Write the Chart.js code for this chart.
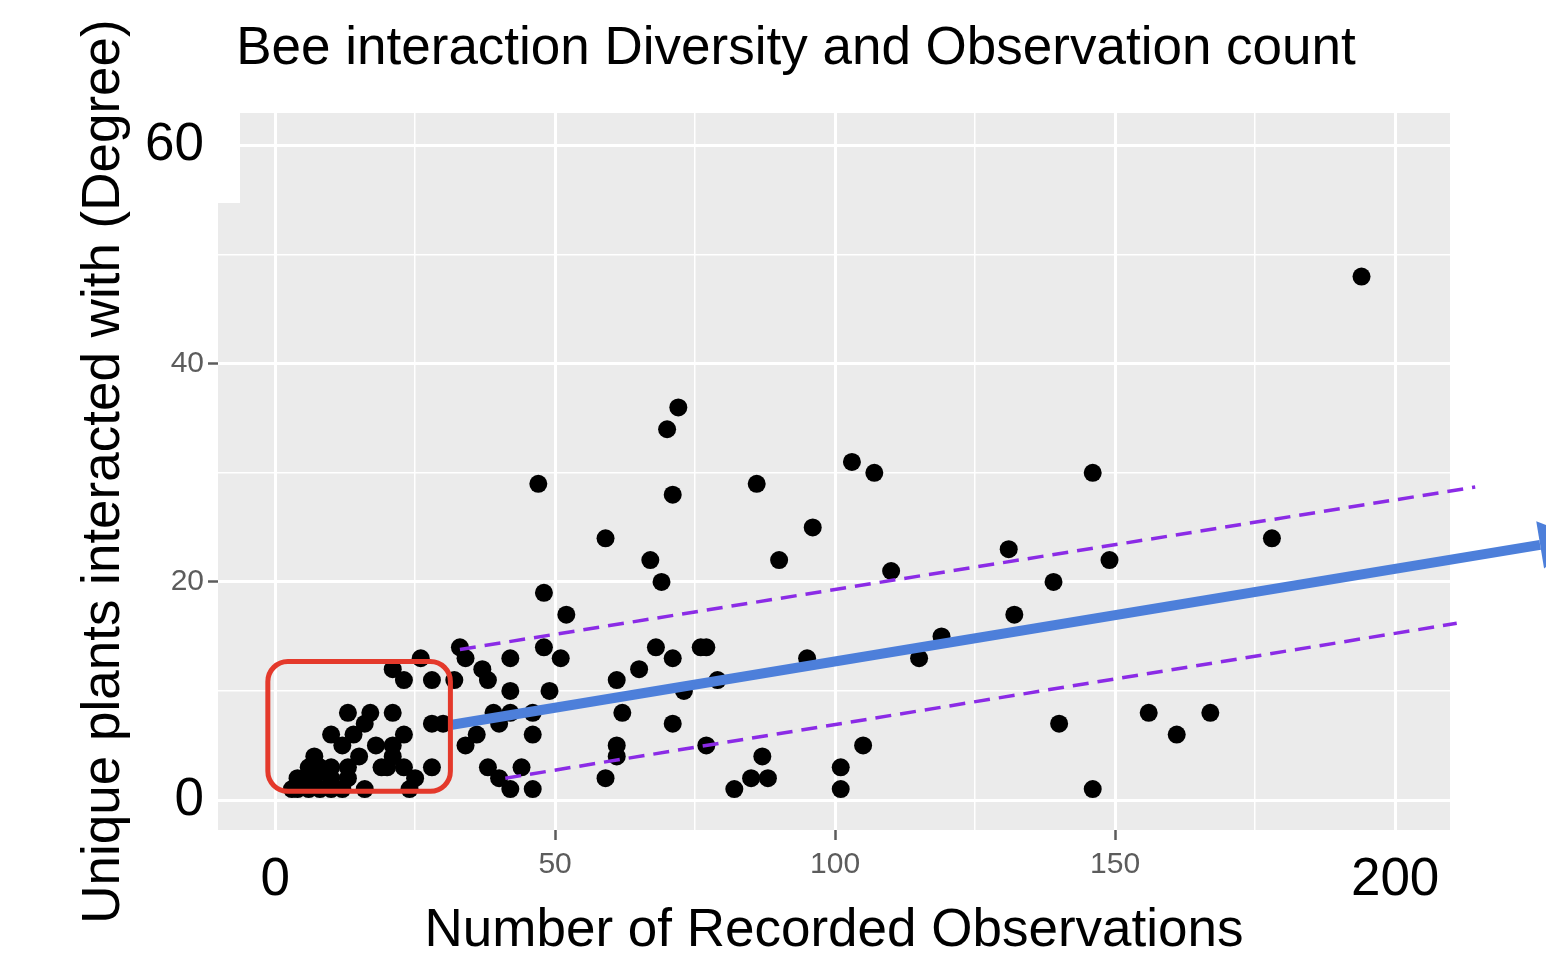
<!DOCTYPE html>
<html>
<head>
<meta charset="utf-8">
<script src="https://cdn.jsdelivr.net/npm/chart.js@4.4.1/dist/chart.umd.min.js"></script>
<style>
html,body{margin:0;padding:0;background:#fff;}
canvas{display:block;}
</style>
</head>
<body>
<canvas id="c" width="1546" height="960"></canvas>
<script>
// ---- data ----
const obsX = [
  26,21,23,28, 13,17,21, 16,28,30, 10,14,23, 12,18,21, 7,15,21,
  6,8,10,13,19,20,23,28, 4,7,10,13,25, 3,4,6,8,10,12,16,24,
  72,70,47,71,86,59,67,69,90,48,52,33,34,42,48,51,37,38,32,42,49,39,42,40,46,36,34,46,38,44,40,42,46,
  59,61,61,62,61,65,68,71,76,77,71,73,79,77,87,85,88,82,
  96,103,107,110,95,115,119,131,132,139,146,149,140,146,105,101,101,
  194,178,156,167,161
];
const degreeY = [
  13,12,11,11, 8,8,8, 7,7,7, 6,6,6, 5,5,5, 4,4,4,
  3,3,3,3,3,3,3,3, 2,2,2,2,2, 1,1,1,1,1,1,1,1,
  36,34,29,28,29,24,22,20,22,19,17,14,13,13,14,13,12,11,11,10,10,8,8,7,8,6,5,6,3,3,2,1,1,
  2,5,4,8,11,12,14,13,14,14,7,10,11,5,4,2,2,1,
  25,31,30,21,13,13,15,23,17,20,30,22,7,1,5,3,1,
  48,24,8,8,6
];
const xTickValues = [0,25,50,75,100,125,150,175,200];
const xTickLabels = ['0','','50','','100','','150','','200'];
const xLargeLabels = ['0','200'];
const yTickValues = [0,10,20,30,40,50,60];
const yTickLabels = ['0','','20','','40','','60'];
const yLargeLabels = ['0','60'];
const fitLineX = [31.6, 225.9];
const fitLineY = [6.9, 23.4];
const upperBandX = [33, 214.3];
const upperBandY = [13.8, 28.7];
const lowerBandX = [41.1, 211];
const lowerBandY = [2.0, 16.2];
const highlightX = [-1.3, 31.3];
const highlightY = [0.8, 12.7];

// ---- styling ----
const FONT = "'Liberation Sans', Arial, Helvetica, sans-serif";
const BLUE = '#4D7FDA';
const PURPLE = '#8B2BE6';
const RED = '#E4392B';
const SMALL_TICK = '#5c5c5c';

const pts = obsX.map((x, i) => ({x: x, y: degreeY[i]}));
const toXY = (xs, ys) => xs.map((x, i) => ({x: x, y: ys[i]}));

function labelOf(values, labels, v) {
  const i = values.indexOf(v);
  return i < 0 ? '' : labels[i];
}

const decor = {
  id: 'decor',
  beforeDraw(chart) {
    const {ctx, chartArea: a} = chart;
    ctx.save();
    ctx.fillStyle = '#ffffff';
    ctx.fillRect(0, 0, chart.width, chart.height);
    ctx.fillStyle = '#EBEBEB';
    ctx.fillRect(a.left, a.top, a.right - a.left, a.bottom - a.top);
    ctx.restore();
  },
  beforeDatasetsDraw(chart) {
    const {ctx, chartArea: a} = chart;
    ctx.save();
    ctx.fillStyle = '#ffffff';
    ctx.fillRect(a.left - 1, a.top, 23, 90);
    ctx.restore();
  },
  afterDatasetsDraw(chart) {
    const {ctx, scales: {x, y}} = chart;
    ctx.save();
    // arrow head on the fit line
    const x0 = x.getPixelForValue(fitLineX[0]), y0 = y.getPixelForValue(fitLineY[0]);
    const x1 = x.getPixelForValue(fitLineX[1]), y1 = y.getPixelForValue(fitLineY[1]);
    const L = Math.hypot(x1 - x0, y1 - y0);
    const dx = (x1 - x0) / L, dy = (y1 - y0) / L;
    const nx = -dy, ny = dx;
    ctx.fillStyle = BLUE;
    ctx.beginPath();
    ctx.moveTo(x1 + nx * 24, y1 + ny * 24);
    ctx.lineTo(x1 + dx * 40, y1 + dy * 40);
    ctx.lineTo(x1 - nx * 24, y1 - ny * 24);
    ctx.closePath();
    ctx.fill();
    // red highlight box
    const bx0 = x.getPixelForValue(highlightX[0]);
    const bx1 = x.getPixelForValue(highlightX[1]);
    const by0 = y.getPixelForValue(highlightY[0]);
    const by1 = y.getPixelForValue(highlightY[1]);
    ctx.strokeStyle = RED;
    ctx.lineWidth = 5;
    ctx.beginPath();
    ctx.roundRect(bx0, by1, bx1 - bx0, by0 - by1, 20);
    ctx.stroke();
    ctx.restore();
  }
};

new Chart(document.getElementById('c'), {
  type: 'scatter',
  data: {
    datasets: [
      {
        label: 'bees',
        data: pts,
        backgroundColor: '#000',
        borderWidth: 0,
        pointRadius: 9,
        pointHoverRadius: 9,
        order: 3
      },
      {
        label: 'fit',
        data: toXY(fitLineX, fitLineY),
        showLine: true,
        borderColor: BLUE,
        borderWidth: 10,
        pointRadius: 0,
        clip: false,
        order: 1
      },
      {
        label: 'upper',
        data: toXY(upperBandX, upperBandY),
        showLine: true,
        borderColor: PURPLE,
        borderWidth: 3.5,
        borderDash: [16, 9],
        pointRadius: 0,
        clip: false,
        order: 2
      },
      {
        label: 'lower',
        data: toXY(lowerBandX, lowerBandY),
        showLine: true,
        borderColor: PURPLE,
        borderWidth: 3.5,
        borderDash: [16, 9],
        pointRadius: 0,
        clip: false,
        order: 2
      }
    ]
  },
  options: {
    responsive: false,
    devicePixelRatio: 1,
    animation: false,
    events: [],
    layout: {padding: {left: 142, right: 96, top: 0, bottom: 0}},
    plugins: {
      legend: {display: false},
      tooltip: {enabled: false},
      title: {
        display: true,
        text: 'Bee interaction Diversity and Observation count',
        color: '#000',
        align: 'center',
        font: {family: FONT, size: 53, weight: 'normal', lineHeight: 1.2},
        padding: {top: 18, bottom: 31.4}
      }
    },
    scales: {
      x: {
        type: 'linear',
        min: -10.2,
        max: 209.8,
        afterBuildTicks: (s) => { s.ticks = xTickValues.map(v => ({value: v})); },
        afterFit: (s) => { s.height = 130; },
        border: {display: false},
        grid: {
          color: '#ffffff',
          lineWidth: (c) => labelOf(xTickValues, xTickLabels, c.tick && c.tick.value) ? 3 : 1.5,
          drawTicks: true,
          tickLength: 10,
          tickWidth: 2.5,
          tickColor: (c) => {
            const l = labelOf(xTickValues, xTickLabels, c.tick && c.tick.value);
            return (l && !xLargeLabels.includes(l)) ? SMALL_TICK : 'rgba(0,0,0,0)';
          }
        },
        ticks: {
          autoSkip: false,
          maxRotation: 0,
          padding: 4,
          callback: (v) => labelOf(xTickValues, xTickLabels, v),
          color: (c) => xLargeLabels.includes(labelOf(xTickValues, xTickLabels, c.tick && c.tick.value)) ? '#000' : SMALL_TICK,
          font: (c) => xLargeLabels.includes(labelOf(xTickValues, xTickLabels, c.tick && c.tick.value))
            ? {family: FONT, size: 53, lineHeight: 1.38}
            : {family: FONT, size: 30, lineHeight: 1.4}
        },
        title: {
          display: true,
          text: 'Number of Recorded Observations',
          color: '#000',
          font: {family: FONT, size: 53, weight: 'normal', lineHeight: 1.2},
          padding: {top: 0, bottom: -3}
        }
      },
      y: {
        type: 'linear',
        min: -2.75,
        max: 63,
        afterBuildTicks: (s) => { s.ticks = yTickValues.map(v => ({value: v})); },
        afterFit: (s) => { s.width = 76; },
        border: {display: false},
        grid: {
          color: '#ffffff',
          lineWidth: (c) => labelOf(yTickValues, yTickLabels, c.tick && c.tick.value) ? 3 : 1.5,
          drawTicks: true,
          tickLength: 10,
          tickWidth: 2.5,
          tickColor: (c) => {
            const l = labelOf(yTickValues, yTickLabels, c.tick && c.tick.value);
            return (l && !yLargeLabels.includes(l)) ? SMALL_TICK : 'rgba(0,0,0,0)';
          }
        },
        ticks: {
          autoSkip: false,
          padding: 4,
          callback: (v) => labelOf(yTickValues, yTickLabels, v),
          color: (c) => yLargeLabels.includes(labelOf(yTickValues, yTickLabels, c.tick && c.tick.value)) ? '#000' : SMALL_TICK,
          font: (c) => yLargeLabels.includes(labelOf(yTickValues, yTickLabels, c.tick && c.tick.value))
            ? {family: FONT, size: 53, lineHeight: 1.2}
            : {family: FONT, size: 30, lineHeight: 1.2}
        },
        title: {
          display: true,
          text: 'Unique plants interacted with (Degree)',
          color: '#000',
          font: {family: FONT, size: 53, weight: 'normal', lineHeight: 1.2},
          padding: {top: -69.2, bottom: 0}
        }
      }
    }
  },
  plugins: [decor]
});
</script>
</body>
</html>
